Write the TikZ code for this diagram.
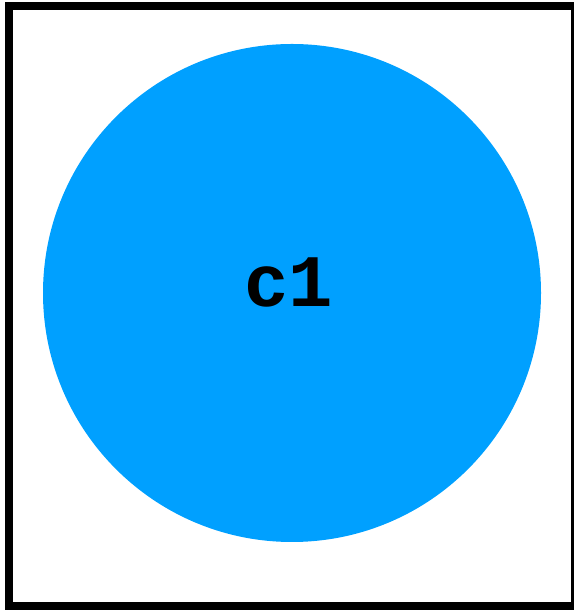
\documentclass[tikz,border=0pt]{standalone}
\usepackage{fontspec}
\newfontfamily\monob{Liberation Mono}
\definecolor{circblue}{HTML}{00A0FF}
\begin{document}
\begin{tikzpicture}[x=1pt,y=1pt,
  frame/.style={draw=black,line width=8pt},
  disc/.style={circle,fill=circblue,minimum size=498pt,inner sep=0pt},
  lbl/.style={font=\monob\bfseries\fontsize{74}{74}\selectfont,text=black,anchor=base,inner sep=0pt}]
\useasboundingbox (0,0) rectangle (573,610);
\draw[frame] (9,4) rectangle (575,604);
\node[disc] (c1) at (292,317) {};
\node[lbl] (t1) at (289,303) {c1};
\end{tikzpicture}
\end{document}
